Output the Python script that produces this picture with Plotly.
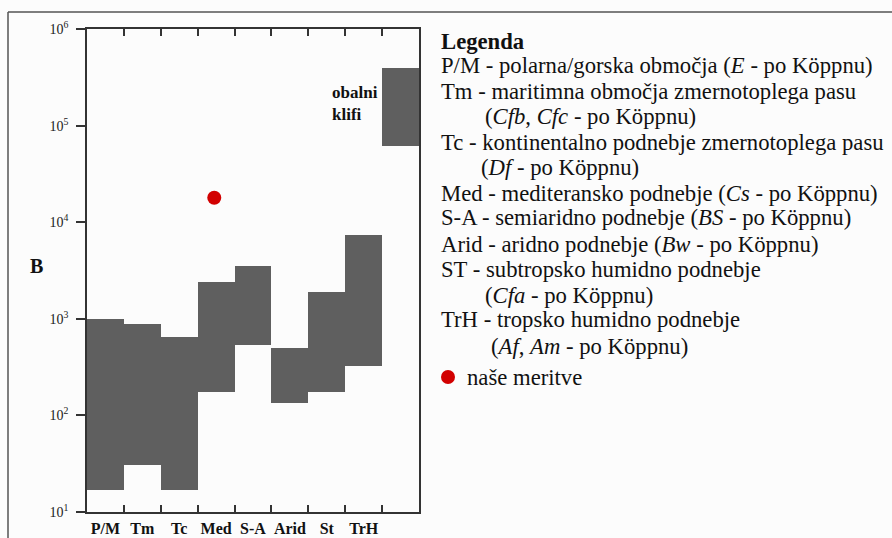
import plotly.graph_objects as go

# ---- data ----
categories = ["P/M", "Tm", "Tc", "Med", "S-A", "Arid", "St", "TrH", ""]
range_low = [16.8, 31, 17, 176, 540, 133, 174, 326, 62000]
range_high = [1000, 880, 655, 2400, 3550, 497, 1880, 7300, 397000]
measure_pos = [3.45]
measure_val = [17900]
ytick_vals = [10, 100, 1000, 10000, 100000, 1000000]
ytick_text = ["10<sup>1</sup>", "10<sup>2</sup>", "10<sup>3</sup>", "10<sup>4</sup>",
              "10<sup>5</sup>", "10<sup>6</sup>"]
legend_lines = [
    ("<b>Legenda</b>", 0),
    ("P/M - polarna/gorska območja (<i>E</i> - po Köppnu)", 0),
    ("Tm - maritimna območja zmernotoplega pasu", 0),
    ("(<i>Cfb</i>, <i>Cfc</i> - po Köppnu)", 44),
    ("Tc - kontinentalno podnebje zmernotoplega pasu", 0),
    ("(<i>Df</i> - po Köppnu)", 40),
    ("Med - mediteransko podnebje (<i>Cs</i> - po Köppnu)", 0),
    ("S-A - semiaridno podnebje (<i>BS</i> - po Köppnu)", 0),
    ("Arid - aridno podnebje (<i>Bw</i> - po Köppnu)", 0),
    ("ST - subtropsko humidno podnebje", 0),
    ("(<i>Cfa</i> - po Köppnu)", 44),
    ("TrH - tropsko humidno podnebje", 0),
    ("(<i>Af</i>, <i>Am</i> - po Köppnu)", 50),
]
legend_y = [41, 65, 91, 116, 142, 167, 193, 218, 244, 269, 295, 319, 346]

W, H = 892, 538
L, R, T, B = 87, 419, 29, 512
SERIF = "Liberation Serif, Times New Roman, serif"
GREY = "#5f5f5f"
RED = "#d20000"


def px(xp):
    return (xp - L) / (R - L)


def py(yp):
    return (B - yp) / (B - T)


centers = [i + 0.5 for i in range(len(categories))]
heights = [h - l for h, l in zip(range_high, range_low)]

fig = go.Figure()
fig.add_trace(go.Bar(x=centers, y=heights, base=range_low, width=1.0,
                     marker=dict(color=GREY, line=dict(width=0)),
                     hoverinfo="skip", showlegend=False))
fig.add_trace(go.Scatter(x=measure_pos, y=measure_val, mode="markers",
                         marker=dict(size=14, color=RED), showlegend=False))
# dummy trace on the label axis
fig.add_trace(go.Scatter(x=[None], y=[None], xaxis="x2", showlegend=False))

annotations = [
    dict(text="<b>obalni<br>klifi</b>", x=6.58, y=5.23, xref="x", yref="y",
         xanchor="left", yanchor="middle", showarrow=False, align="left",
         font=dict(family=SERIF, size=17, color="#111")),
    dict(text="<b>B</b>", x=px(36), y=py(266), xref="paper", yref="paper",
         xanchor="center", yanchor="middle", showarrow=False,
         font=dict(family=SERIF, size=20, color="#111")),
]
for (txt, indent), yy in zip(legend_lines, legend_y):
    annotations.append(dict(text=txt, x=px(439 + indent), y=py(yy), xref="paper", yref="paper",
                            xanchor="left", yanchor="middle", showarrow=False,
                            font=dict(family=SERIF, size=22.7, color="#111")))
annotations.append(dict(text="naše meritve", x=px(465), y=py(377), xref="paper", yref="paper",
                        xanchor="left", yanchor="middle", showarrow=False,
                        font=dict(family=SERIF, size=22.7, color="#111")))

shapes = [
    dict(type="circle", xref="paper", yref="paper",
         x0=px(441), x1=px(455), y0=py(384), y1=py(370),
         fillcolor=RED, line=dict(width=0)),
    dict(type="line", xref="paper", yref="paper",
         x0=px(8), x1=px(8), y0=py(560), y1=py(12),
         line=dict(color="#555", width=1.5), layer="below"),
    dict(type="line", xref="paper", yref="paper",
         x0=px(8), x1=px(900), y0=py(12), y1=py(12),
         line=dict(color="#555", width=1.5), layer="below"),
]

fig.update_layout(
    width=W, height=H,
    margin=dict(l=L, r=W - R, t=T, b=H - B, pad=0, autoexpand=False),
    paper_bgcolor="#fcfcfc", plot_bgcolor="#fcfcfc",
    bargap=0, showlegend=False,
    xaxis=dict(range=[0, 9], tickvals=[1, 2, 3, 4, 5, 6, 7, 8], ticktext=[""] * 8,
               ticks="inside", ticklen=7, tickwidth=1.5, tickcolor="#333",
               showline=True, linecolor="#333", linewidth=1.5, mirror="ticks",
               showgrid=False, zeroline=False, fixedrange=True, automargin=False),
    xaxis2=dict(range=[0, 9], overlaying="x", side="bottom", anchor="y",
                tickvals=centers[:8], ticktext=[f"<b>{c}</b>" for c in categories[:8]],
                ticks="", showline=False, showgrid=False, zeroline=False,
                ticklabelstandoff=5, automargin=False,
                tickfont=dict(family=SERIF, size=16, color="#111")),
    yaxis=dict(type="log", range=[1, 6], tickvals=ytick_vals, ticktext=ytick_text,
               ticks="outside", ticklen=9, tickwidth=1.5, tickcolor="#333",
               showline=True, linecolor="#333", linewidth=1.5, mirror=True,
               showgrid=False, zeroline=False, ticklabelstandoff=5, automargin=False,
               tickfont=dict(family=SERIF, size=14, color="#222")),
    annotations=annotations,
    shapes=shapes,
)

fig.write_html("out.html", config={"displayModeBar": False},
               post_script="document.body.style.margin='0';document.body.style.overflow='hidden';")
